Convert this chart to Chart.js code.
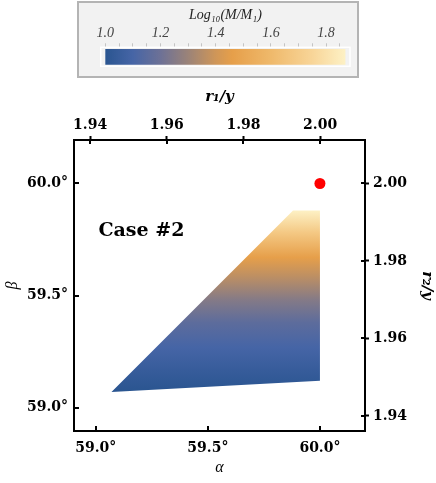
<!DOCTYPE html>
<html>
<head>
<meta charset="utf-8">
<script src="https://cdn.jsdelivr.net/npm/chart.js@4.4.1/dist/chart.umd.min.js"></script>
<style>
  html, body { margin: 0; padding: 0; background: #fff; }
  body { width: 436px; height: 483px; position: relative; overflow: hidden; }
  #cbar-box {
    position: absolute; left: 77px; top: 1px; width: 282px; height: 77px;
    box-sizing: border-box; border: 2px solid #b4b4b4; background: #f2f2f2;
  }
  #main-box { position: absolute; left: 0; top: 82px; width: 436px; height: 401px; }
</style>
</head>
<body>
<div id="cbar-box"><canvas id="cbar"></canvas></div>
<div id="main-box"><canvas id="main"></canvas></div>
<script>
// Allowed region (corners)
const regionAlpha = [59.07, 59.88, 60.00, 60.00, 59.07];
const regionBeta  = [59.07, 59.88, 59.88, 59.12, 59.07];

// Log10(M/M1) along beta inside the region
const betaSamples = [59.07, 59.155, 59.27, 59.38, 59.48, 59.58, 59.67, 59.78, 59.88];
const logMSamples = [1.00, 1.04, 1.10, 1.16, 1.25, 1.36, 1.46, 1.68, 1.87];

// Equilateral point
const pointAlpha = [60.0];
const pointBeta  = [60.0];

// Colour map
const cmapValues = [1.00, 1.10, 1.20, 1.30, 1.40, 1.46, 1.60, 1.75, 1.87];
const cmapColors = ['#2a5590', '#4665a6', '#6d7196', '#9b8378', '#cf9658',
                    '#e69f4a', '#efb96b', '#f8d598', '#fdf1c5'];
const cbarRange = [1.0, 1.87];
const cbarTicks = [1.0, 1.05, 1.1, 1.15, 1.2, 1.25, 1.3, 1.35, 1.4,
                   1.45, 1.5, 1.55, 1.6, 1.65, 1.7, 1.75, 1.8, 1.85];

// Axis ticks
const alphaTicks = [59.0, 59.5, 60.0];
const betaTicks  = [59.0, 59.5, 60.0];
const r1Ticks = [1.94, 1.96, 1.98, 2.00];
const r2Ticks = [1.94, 1.96, 1.98, 2.00];

const caseLabel = 'Case #2';
const caseAt = { alpha: 59.012, beta: 59.766 };

// helpers
const hexToRgb = (h) => [1, 3, 5].map(i => parseInt(h.slice(i, i + 2), 16));
function colorFor(v) {
  if (v <= cmapValues[0]) return cmapColors[0];
  for (let i = 1; i < cmapValues.length; i++) {
    if (v <= cmapValues[i]) {
      const t = (v - cmapValues[i - 1]) / (cmapValues[i] - cmapValues[i - 1]);
      const a = hexToRgb(cmapColors[i - 1]), b = hexToRgb(cmapColors[i]);
      const c = a.map((x, k) => Math.round(x + (b[k] - x) * t));
      return `rgb(${c[0]},${c[1]},${c[2]})`;
    }
  }
  return cmapColors[cmapColors.length - 1];
}

function regionFill(context) {
  const chart = context.chart;
  if (!chart.chartArea) return null;
  const ys = chart.scales.y;
  const b0 = betaSamples[0], b1 = betaSamples[betaSamples.length - 1];
  const g = chart.ctx.createLinearGradient(0, ys.getPixelForValue(b0), 0, ys.getPixelForValue(b1));
  betaSamples.forEach((b, i) => g.addColorStop((b - b0) / (b1 - b0), colorFor(logMSamples[i])));
  return g;
}

function cbarFill(context) {
  const chart = context.chart;
  if (!chart.chartArea) return null;
  const xs = chart.scales.x;
  const v0 = cmapValues[0], v1 = cmapValues[cmapValues.length - 1];
  const g = chart.ctx.createLinearGradient(xs.getPixelForValue(v0), 0, xs.getPixelForValue(v1), 0);
  cmapValues.forEach((v, i) => g.addColorStop((v - v0) / (v1 - v0), cmapColors[i]));
  return g;
}

const tickFont = { family: "'DejaVu Serif', serif", weight: 'bold', size: 14 };
const fixTicks = (vals) => (s) => { s.ticks = vals.map(v => ({ value: v })); };

// inward tick marks + annotation
const innerTicks = {
  id: 'innerTicks',
  afterDraw(chart) {
    const { ctx, chartArea: a, scales } = chart;
    ctx.save();
    ctx.strokeStyle = '#000';
    ctx.lineWidth = 2;
    [['x', 5], ['x2', 4], ['y', 5], ['y2', 4]].forEach(([id, len]) => {
      const s = scales[id];
      s.ticks.forEach(t => {
        const p = Math.round(s.getPixelForValue(t.value));
        ctx.beginPath();
        if (s.position === 'bottom') { ctx.moveTo(p, a.bottom); ctx.lineTo(p, a.bottom - len); }
        if (s.position === 'top')    { ctx.moveTo(p, a.top);    ctx.lineTo(p, a.top + len); }
        if (s.position === 'left')   { ctx.moveTo(a.left, p);   ctx.lineTo(a.left + len, p); }
        if (s.position === 'right')  { ctx.moveTo(a.right, p);  ctx.lineTo(a.right - len, p); }
        ctx.stroke();
      });
    });
    // Case label
    ctx.fillStyle = '#000';
    ctx.font = "bold 19px 'DejaVu Serif', serif";
    ctx.textAlign = 'left';
    ctx.textBaseline = 'alphabetic';
    ctx.fillText(caseLabel, scales.x.getPixelForValue(caseAt.alpha), scales.y.getPixelForValue(caseAt.beta));
    ctx.restore();
  }
};

new Chart(document.getElementById('main'), {
  type: 'scatter',
  data: {
    datasets: [
      {
        label: 'equilateral',
        data: pointAlpha.map((a, i) => ({ x: a, y: pointBeta[i] })),
        pointRadius: 5.5,
        pointBackgroundColor: '#ff0000',
        pointBorderWidth: 0
      },
      {
        label: 'region',
        data: regionAlpha.map((a, i) => ({ x: a, y: regionBeta[i] })),
        showLine: true,
        fill: 'shape',
        tension: 0,
        borderWidth: 0,
        borderColor: 'rgba(0,0,0,0)',
        pointRadius: 0,
        backgroundColor: regionFill
      }
    ]
  },
  options: {
    responsive: true,
    maintainAspectRatio: false,
    animation: false,
    events: [],
    layout: { padding: 0 },
    plugins: { legend: { display: false }, tooltip: { enabled: false } },
    scales: {
      x: {
        type: 'linear', position: 'bottom', min: 58.903, max: 60.201,
        afterBuildTicks: fixTicks(alphaTicks),
        afterFit: (s) => { s.height = 52; },
        ticks: { callback: v => v.toFixed(1) + '°', font: tickFont, color: '#000', padding: 9, maxRotation: 0 },
        grid: { drawOnChartArea: false, drawTicks: false },
        border: { color: '#000', width: 2 },
        title: { display: true, text: 'α', color: '#000',
                 font: { family: "'Liberation Serif', serif", style: 'italic', size: 16 },
                 padding: { top: 0, bottom: 6 } }
      },
      x2: {
        type: 'linear', position: 'top', min: 1.9358, max: 2.0117,
        afterBuildTicks: fixTicks(r1Ticks),
        afterFit: (s) => { s.height = 58; },
        ticks: { callback: v => v.toFixed(2), font: tickFont, color: '#000', padding: 2, maxRotation: 0 },
        grid: { drawOnChartArea: false, tickLength: 4, tickWidth: 2, tickColor: '#000' },
        border: { color: '#000', width: 2 },
        title: { display: true, text: 'r₁/y', color: '#000',
                 font: { family: "'DejaVu Serif', serif", style: 'italic', weight: 'bold', size: 15 },
                 padding: { top: 6, bottom: 0 } }
      },
      y: {
        type: 'linear', position: 'left', min: 58.896, max: 60.194,
        afterBuildTicks: fixTicks(betaTicks),
        afterFit: (s) => { s.width = 74; },
        ticks: { callback: v => v.toFixed(1) + '°', font: tickFont, color: '#000', padding: 6 },
        grid: { drawOnChartArea: false, drawTicks: false },
        border: { color: '#000', width: 2 },
        title: { display: true, text: 'β', color: '#000',
                 font: { family: "'Liberation Serif', serif", style: 'italic', size: 16 },
                 padding: { top: 3, bottom: 0 } }
      },
      y2: {
        type: 'linear', position: 'right', min: 1.9361, max: 2.0112,
        afterBuildTicks: fixTicks(r2Ticks),
        afterFit: (s) => { s.width = 71; },
        ticks: { callback: v => v.toFixed(2), font: tickFont, color: '#000', padding: 4 },
        grid: { drawOnChartArea: false, tickLength: 4, tickWidth: 2, tickColor: '#000' },
        border: { color: '#000', width: 2 },
        title: { display: true, text: 'r₂/y', color: '#000',
                 font: { family: "'DejaVu Serif', serif", style: 'italic', weight: 'bold', size: 15 },
                 padding: { top: 0, bottom: 0 } }
      }
    }
  },
  plugins: [innerTicks]
});

// Colour bar
const cbarFrame = {
  id: 'cbarFrame',
  beforeDatasetsDraw(chart) {
    const { ctx, chartArea: a } = chart;
    ctx.save();
    ctx.strokeStyle = '#ffffff';
    ctx.lineWidth = 1.5;
    ctx.strokeRect(a.left, a.top, a.right - a.left, a.bottom - a.top);
    ctx.restore();
  }
};

new Chart(document.getElementById('cbar'), {
  type: 'bar',
  data: {
    labels: ['M'],
    datasets: [{
      data: [cbarRange],
      backgroundColor: cbarFill,
      borderWidth: 0,
      borderSkipped: false,
      barPercentage: 0.83,
      categoryPercentage: 1
    }]
  },
  options: {
    indexAxis: 'y',
    responsive: true,
    maintainAspectRatio: false,
    animation: false,
    events: [],
    layout: { padding: { left: 21.7, right: 7, top: 0, bottom: 9.7 } },
    plugins: { legend: { display: false }, tooltip: { enabled: false } },
    scales: {
      x: {
        type: 'linear', position: 'top', min: 0.9833, max: 1.8866,
        afterBuildTicks: fixTicks(cbarTicks),
        afterFit: (s) => { s.height = 44.3; },
        ticks: {
          callback: v => (Math.abs(v * 5 - Math.round(v * 5)) < 1e-6 ? v.toFixed(1) : ''),
          font: { family: "'Liberation Serif', serif", style: 'italic', size: 14 },
          color: '#444', padding: 2, maxRotation: 0, autoSkip: false
        },
        grid: { drawOnChartArea: false, tickLength: 4, tickWidth: 1, tickColor: '#c4c4c4' },
        border: { display: false },
        title: { display: true, text: 'Log₁₀(M/M₁)', color: '#222',
                 font: { family: "'Liberation Serif', serif", style: 'italic', size: 14 },
                 padding: { top: 4, bottom: 0 } }
      },
      y: { display: false }
    }
  },
  plugins: [cbarFrame]
});
</script>
</body>
</html>
